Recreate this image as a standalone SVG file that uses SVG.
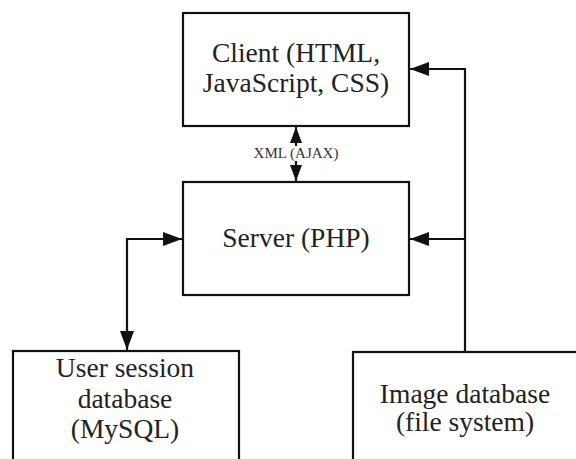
<svg xmlns="http://www.w3.org/2000/svg" width="576" height="459" viewBox="0 0 576 459">
  <style>
    .box { fill: #ffffff; stroke: #111111; stroke-width: 2.2; }
    .lbl { font-family: 'Liberation Serif', Tinos, 'Times New Roman', Times, serif; font-size: 27.5px; fill: #222222; text-anchor: middle; }
    .small { font-family: 'Liberation Serif', Tinos, 'Times New Roman', Times, serif; font-size: 15px; fill: #333333; text-anchor: middle; }
    .conn { fill: none; stroke: #111111; stroke-width: 2.2; }
  </style>
  <defs>
    <marker id="arr" markerUnits="userSpaceOnUse" markerWidth="19" markerHeight="14" refX="19" refY="7" orient="auto-start-reverse">
      <path d="M0,0 L19,7 L0,14 z" fill="#111111"/>
    </marker>
    <marker id="arrS" markerUnits="userSpaceOnUse" markerWidth="16" markerHeight="12" refX="16" refY="6" orient="auto-start-reverse">
      <path d="M0,0 L16,6 L0,12 z" fill="#111111"/>
    </marker>
  </defs>
  <rect width="576" height="459" fill="#ffffff"/>
  <g id="connectors">
    <path class="conn" d="M296,127 V181" marker-start="url(#arrS)" marker-end="url(#arrS)"/>
    <rect x="250" y="146" width="92" height="15" fill="#ffffff"/>
    <text class="small" x="296" y="158" font-family="Liberation Serif, serif">XML (AJAX)</text>
    <path class="conn" d="M182,239 H127 V350" marker-start="url(#arr)" marker-end="url(#arr)"/>
    <path class="conn" d="M465,352 V69 H410" marker-end="url(#arr)"/>
    <path class="conn" d="M465,239 H410" marker-end="url(#arr)"/>
  </g>
  <g id="client">
    <rect class="box" x="183" y="13" width="226" height="113"/>
    <text class="lbl" x="296" y="62">Client (HTML,</text>
    <text class="lbl" x="296" y="92">JavaScript, CSS)</text>
  </g>
  <g id="server">
    <rect class="box" x="183" y="182" width="226" height="113"/>
    <text class="lbl" x="296" y="247">Server (PHP)</text>
  </g>
  <g id="user-db">
    <rect class="box" x="13" y="351" width="226" height="130"/>
    <text class="lbl" x="125" y="377">User session</text>
    <text class="lbl" x="125" y="408">database</text>
    <text class="lbl" x="125" y="438">(MySQL)</text>
  </g>
  <g id="image-db">
    <rect class="box" x="353" y="352" width="240" height="130"/>
    <text class="lbl" x="465" y="403">Image database</text>
    <text class="lbl" x="465" y="431">(file system)</text>
  </g>
</svg>
